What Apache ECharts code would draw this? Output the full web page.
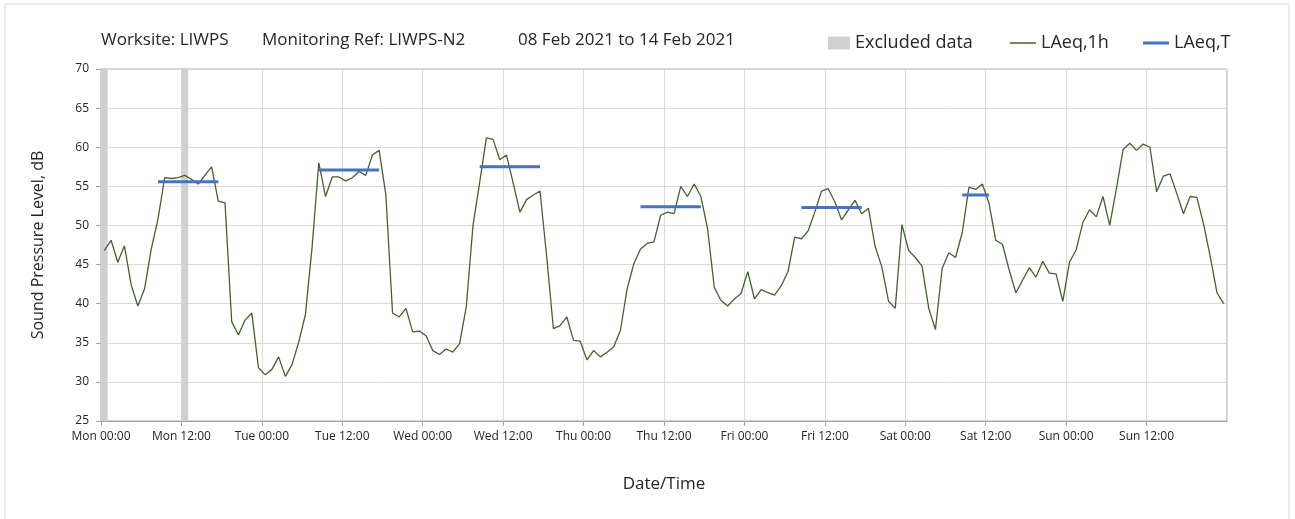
<!DOCTYPE html>
<html>
<head>
<meta charset="utf-8">
<script src="https://cdn.jsdelivr.net/npm/echarts@6/dist/echarts.min.js"></script>
<style>
  html, body { margin: 0; padding: 0; background: #fff; }
  #chart { width: 1295px; height: 519px; }
</style>
</head>
<body>
<div id="chart"></div>
<script>
// hourly LAeq values, Mon 00:00 .. Sun 23:00 (plotted at mid-hour)
var laeq1h = [
  46.8, 48.1, 45.3, 47.4, 42.4, 39.7, 41.9, 47.0, 50.8, 56.1, 56.0, 56.1,
  56.4, 55.9, 55.3, 56.4, 57.5, 53.1, 52.9, 37.7, 36.0, 37.9, 38.8, 31.8,
  30.9, 31.6, 33.2, 30.7, 32.2, 35.1, 38.6, 47.3, 58.0, 53.7, 56.2, 56.2,
  55.7, 56.1, 56.9, 56.4, 59.0, 59.6, 53.9, 38.8, 38.3, 39.4, 36.4, 36.5,
  35.9, 34.0, 33.5, 34.2, 33.8, 34.9, 39.6, 50.0, 55.5, 61.2, 61.0, 58.4,
  59.0, 55.4, 51.7, 53.3, 53.9, 54.4, 46.0, 36.8, 37.2, 38.3, 35.3, 35.2,
  32.8, 34.0, 33.2, 33.8, 34.5, 36.6, 41.9, 45.1, 47.0, 47.7, 47.9, 51.3,
  51.7, 51.5, 55.0, 53.7, 55.3, 53.7, 49.6, 42.1, 40.4, 39.7, 40.6, 41.3,
  44.1, 40.6, 41.8, 41.4, 41.1, 42.3, 44.1, 48.5, 48.3, 49.3, 51.7, 54.4,
  54.7, 53.0, 50.7, 52.0, 53.2, 51.5, 52.2, 47.3, 44.7, 40.3, 39.4, 50.1,
  46.8, 45.9, 44.8, 39.4, 36.7, 44.5, 46.5, 45.9, 49.1, 54.9, 54.6, 55.3,
  52.8, 48.1, 47.6, 44.3, 41.4, 43.0, 44.6, 43.4, 45.4, 43.9, 43.8, 40.3,
  45.3, 46.9, 50.4, 52.0, 51.1, 53.7, 50.0, 54.7, 59.7, 60.5, 59.6, 60.4,
  60.0, 54.3, 56.3, 56.6, 54.1, 51.5, 53.7, 53.6, 50.2, 46.0, 41.4, 40.0
];

// LAeq,T per day (Mon..Sat), period start / end in hours of the week
var periodStart = [8.5, 32.5, 56.5, 80.5, 104.5, 128.5];
var periodEnd = [17.5, 41.5, 65.5, 89.5, 113.5, 132.5];
var laeqT = [55.6, 57.1, 57.5, 52.4, 52.3, 53.9];

// excluded hours (start of each excluded hour)
var excludedHours = [0, 12];

var dayNames = ['Mon', 'Tue', 'Wed', 'Thu', 'Fri', 'Sat', 'Sun'];

var FONT = '"Open Sans", sans-serif';
var TXT = '#262626';

var hourlyData = laeq1h.map(function (v, i) { return [i + 0.5, v]; });

var periodData = [];
for (var i = 0; i < laeqT.length; i++) {
  periodData.push([periodStart[i], laeqT[i]]);
  periodData.push([periodEnd[i], laeqT[i]]);
  periodData.push([periodEnd[i], '-']);
}

var excludedAreas = excludedHours.map(function (h) {
  return [{ xAxis: h }, { xAxis: h + 1 }];
});

var titleStyle = { fontFamily: FONT, fontSize: 17, fontWeight: 'normal', color: TXT };
var legendText = { fontFamily: FONT, fontSize: 18, color: TXT };

var chartDom = document.getElementById('chart');
var myChart = echarts.init(chartDom);

var option = {
  animation: false,
  backgroundColor: '#fff',
  textStyle: { fontFamily: FONT },
  graphic: [{
    type: 'rect',
    shape: { x: 5, y: 4, width: 1284, height: 530 },
    style: { fill: 'none', stroke: '#d9d9d9', lineWidth: 1 },
    silent: true
  }],
  title: [
    { text: 'Worksite: LIWPS', left: 101, top: 32, padding: 0, textStyle: titleStyle },
    { text: 'Monitoring Ref: LIWPS-N2', left: 262, top: 32, padding: 0, textStyle: titleStyle },
    { text: '08 Feb 2021 to 14 Feb 2021', left: 518, top: 32, padding: 0, textStyle: titleStyle }
  ],
  legend: [
    {
      data: [{ name: 'Excluded data', icon: 'rect', itemStyle: { color: '#d0d0d0' } }],
      left: 828, top: 34, padding: 0, itemWidth: 22, itemHeight: 13, itemGap: 6,
      textStyle: legendText
    },
    {
      data: [{ name: 'LAeq,1h', icon: 'rect', itemStyle: { color: '#44622b' } }],
      left: 1010, top: 34, padding: 0, itemWidth: 26, itemHeight: 1.5,
      textStyle: legendText
    },
    {
      data: [{ name: 'LAeq,T', icon: 'rect', itemStyle: { color: '#4472c4' } }],
      left: 1143, top: 34, padding: 0, itemWidth: 26, itemHeight: 3,
      textStyle: legendText
    }
  ],
  grid: { left: 101, right: 68, top: 69, bottom: 98, show: true, borderColor: '#a6a6a6', borderWidth: 1 },
  xAxis: {
    type: 'value',
    min: 0,
    max: 168,
    interval: 12,
    name: 'Date/Time',
    nameLocation: 'middle',
    nameGap: 55,
    nameTextStyle: { fontFamily: FONT, fontSize: 17, color: TXT },
    axisLine: { show: true, lineStyle: { color: '#a6a6a6' } },
    axisTick: { show: true, length: 5, lineStyle: { color: '#a6a6a6' } },
    splitLine: { show: true, lineStyle: { color: '#d9d9d9' } },
    axisLabel: {
      fontFamily: FONT, fontSize: 12, color: TXT, margin: 10,
      showMaxLabel: false,
      formatter: function (v) {
        if (v >= 168) return '';
        var d = dayNames[Math.floor(v / 24)];
        return d + ' ' + (v % 24 === 0 ? '00:00' : '12:00');
      }
    }
  },
  yAxis: {
    type: 'value',
    min: 25,
    max: 70,
    interval: 5,
    name: 'Sound Pressure Level, dB',
    nameLocation: 'middle',
    nameGap: 55,
    nameTextStyle: { fontFamily: FONT, fontSize: 16, color: TXT },
    axisLine: { show: true, lineStyle: { color: '#a6a6a6' } },
    axisTick: { show: true, length: 5, lineStyle: { color: '#a6a6a6' } },
    splitLine: { show: true, lineStyle: { color: '#d9d9d9' } },
    axisLabel: { fontFamily: FONT, fontSize: 12, color: TXT, margin: 12 }
  },
  series: [
    {
      name: 'Excluded data',
      type: 'line',
      data: [],
      itemStyle: { color: '#d0d0d0' },
      markArea: {
        silent: true,
        itemStyle: { color: '#d0d0d0', opacity: 1 },
        data: excludedAreas
      }
    },
    {
      name: 'LAeq,1h',
      type: 'line',
      data: hourlyData,
      symbol: 'none',
      itemStyle: { color: '#44622b' },
      lineStyle: { color: '#44622b', width: 1.3 },
      z: 3
    },
    {
      name: 'LAeq,T',
      type: 'line',
      data: periodData,
      symbol: 'none',
      connectNulls: false,
      itemStyle: { color: '#4472c4' },
      lineStyle: { color: '#4472c4', width: 3 },
      z: 4
    }
  ]
};

option && myChart.setOption(option);
</script>
</body>
</html>
